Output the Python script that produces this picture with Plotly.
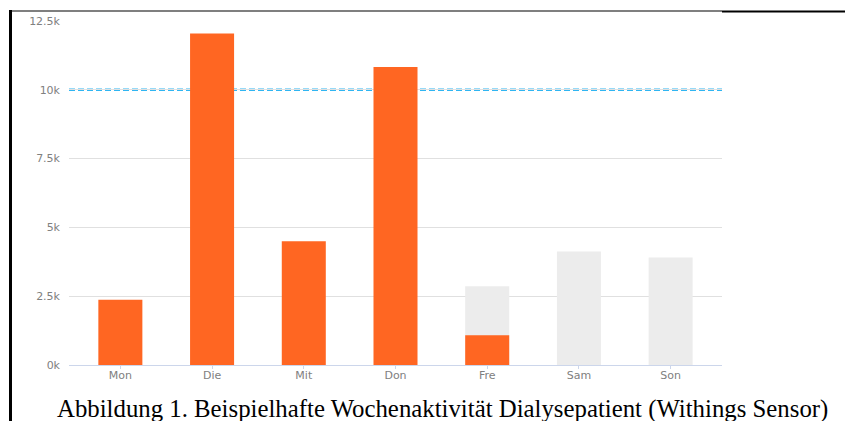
import plotly.graph_objects as go

# Weekly step counts (thousands of steps shown as "k")
days = ["Mon", "Die", "Mit", "Don", "Fre", "Sam", "Son"]
steps_done = [2370, 12050, 4500, 10830, 1080, None, None]
steps_expected = [None, None, None, None, 2860, 4120, 3910]
goal = 10000

y_tickvals = [0, 2500, 5000, 7500, 10000, 12500]
y_ticktext = ["0k", "2.5k", "5k", "7.5k", "10k", "12.5k"]

caption = "Abbildung 1. Beispielhafte Wochenaktivität Dialysepatient (Withings Sensor)"

W, H = 845, 421
L, R, T, B = 69, 123, 21, 56
pw, ph = W - L - R, H - T - B


def px_x(x):
    return (x - L) / pw


def px_y(y):
    return (H - B - y) / ph


fig = go.Figure()
fig.add_trace(go.Bar(x=days, y=steps_expected, marker=dict(color="#ececec", line_width=0),
                     width=0.48, hoverinfo="skip"))
fig.add_trace(go.Bar(x=days, y=steps_done, marker=dict(color="#ff6622", line_width=0),
                     width=0.48))

# daily goal line
fig.add_shape(type="line", xref="paper", x0=0, x1=1, yref="y", y0=goal, y1=goal,
              line=dict(color="#2fb5f2", width=2.4, dash="6px,3px"), layer="between")

# frame lines around the figure
fig.add_shape(type="line", xref="paper", yref="paper", x0=px_x(10.5), x1=px_x(10.5),
              y0=px_y(10), y1=px_y(425), line=dict(color="black", width=3))
fig.add_shape(type="line", xref="paper", yref="paper", x0=px_x(9), x1=px_x(722),
              y0=px_y(11), y1=px_y(11), line=dict(color="black", width=1.2))
fig.add_shape(type="line", xref="paper", yref="paper", x0=px_x(722), x1=px_x(846),
              y0=px_y(11.5), y1=px_y(11.5), line=dict(color="black", width=2.2))

fig.add_annotation(text=caption, xref="paper", yref="paper", x=px_x(442), y=px_y(408.5),
                   xanchor="center", yanchor="middle", showarrow=False,
                   font=dict(family="Liberation Serif", size=24.8, color="black"))

fig.update_layout(
    width=W, height=H, margin=dict(l=L, r=R, t=T, b=B, pad=0),
    paper_bgcolor="white", plot_bgcolor="white",
    barmode="overlay", showlegend=False,
    font=dict(family="DejaVu Sans", size=11, color="#808080"),
    xaxis=dict(range=[-0.56, 6.56], showgrid=False, showline=True, linecolor="#ccd6eb",
               linewidth=1, ticks="outside", ticklen=3, tickcolor="#ccd6eb",
               ticklabelstandoff=-3,
               tickfont=dict(size=11, color="#808080"), zeroline=False, fixedrange=True),
    yaxis=dict(range=[0, 12500], tickvals=y_tickvals, ticktext=y_ticktext,
               showgrid=True, gridcolor="#e0e0e0", gridwidth=1, zeroline=False,
               showline=False, ticks="", ticklabelstandoff=8,
               tickfont=dict(size=11, color="#808080"), fixedrange=True),
)

fig.write_html("out.html")
